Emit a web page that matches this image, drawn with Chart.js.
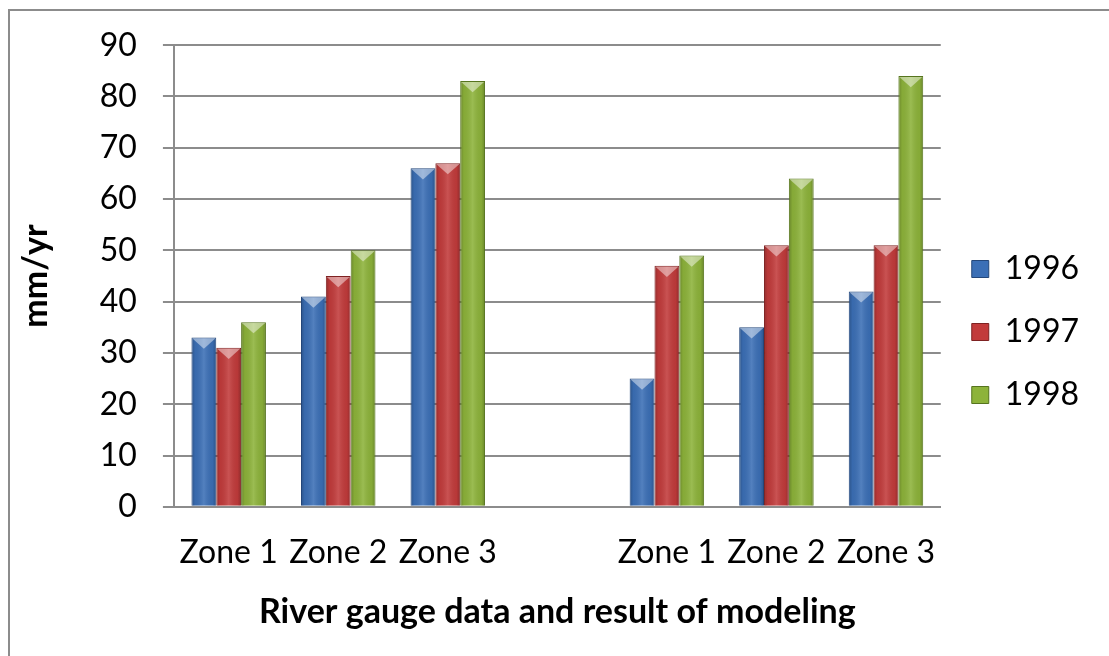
<!DOCTYPE html>
<html>
<head>
<meta charset="utf-8">
<script src="https://cdn.jsdelivr.net/npm/chart.js@4.4.1/dist/chart.umd.min.js"></script>
<style>
  html, body { margin: 0; padding: 0; background: #fff; }
  #wrap { width: 1109px; height: 656px; position: relative; }
</style>
</head>
<body>
<div id="wrap"><canvas id="myBarChart" width="1109" height="656"></canvas></div>
<script>
// data
const categories = ['Zone 1', 'Zone 2', 'Zone 3', '', 'Zone 1', 'Zone 2', 'Zone 3'];
const series1996 = [33, 41, 66, null, 25, 35, 42];
const series1997 = [31, 45, 67, null, 47, 51, 51];
const series1998 = [36, 50, 83, null, 49, 64, 84];
const seriesNames = ['1996', '1997', '1998'];
const yTicks = [0, 10, 20, 30, 40, 50, 60, 70, 80, 90];

const colors = ['#3b6fb6', '#c23b3b', '#8db33a'];
const edges = ['#24477a', '#7e2222', '#56741e'];
const FONT = 'Lato, "Open Sans", sans-serif';

// shading + top bevel on every bar, plus outer frame
const bevelPlugin = {
    id: 'bevel',
    afterDatasetsDraw(chart) {
        const ctx = chart.ctx;
        chart.data.datasets.forEach(function(ds, di) {
            chart.getDatasetMeta(di).data.forEach(function(bar, i) {
                if (ds.data[i] == null) return;
                const l = bar.x - bar.width / 2, r = bar.x + bar.width / 2;
                const top = bar.y, base = bar.base;
                const g = ctx.createLinearGradient(l, 0, r, 0);
                g.addColorStop(0, 'rgba(0,0,0,0.25)');
                g.addColorStop(0.15, 'rgba(0,0,0,0.05)');
                g.addColorStop(0.5, 'rgba(255,255,255,0.12)');
                g.addColorStop(0.85, 'rgba(0,0,0,0.05)');
                g.addColorStop(1, 'rgba(0,0,0,0.25)');
                ctx.save();
                ctx.fillStyle = g;
                ctx.fillRect(l + 1, top + 1, r - l - 2, base - top - 1);
                // top triangle highlight
                const h = bar.width * 0.45;
                ctx.beginPath();
                ctx.moveTo(l + 1, top + 1);
                ctx.lineTo(r - 1, top + 1);
                ctx.lineTo(bar.x, top + h);
                ctx.closePath();
                ctx.fillStyle = 'rgba(255,255,255,0.45)';
                ctx.fill();
                ctx.restore();
            });
        });
    },
    afterDraw(chart) {
        const ctx = chart.ctx;
        ctx.save();
        ctx.strokeStyle = '#8c8c8c';
        ctx.lineWidth = 2;
        ctx.strokeRect(9, 10, chart.width + 20, chart.height + 20);
        ctx.restore();
    }
};

const ctxBar = document.getElementById('myBarChart').getContext('2d');
const myBarChart = new Chart(ctxBar, {
    type: 'bar',
    data: {
        labels: categories,
        datasets: [series1996, series1997, series1998].map(function(d, i) {
            return {
                label: seriesNames[i],
                data: d,
                backgroundColor: colors[i],
                borderColor: edges[i],
                borderWidth: 1,
                categoryPercentage: 0.68,
                barPercentage: 1.0
            };
        })
    },
    plugins: [bevelPlugin],
    options: {
        responsive: false,
        animation: false,
        layout: { padding: { left: 16, right: 20, top: 32, bottom: 24 } },
        plugins: {
            tooltip: { enabled: false },
            legend: {
                position: 'right',
                labels: {
                    color: '#000',
                    font: { family: FONT, size: 32 },
                    boxWidth: 17,
                    boxHeight: 17,
                    padding: 31,
                    generateLabels: function(chart) {
                        return seriesNames.map(function(n, i) {
                            return { text: n, fillStyle: colors[i], strokeStyle: edges[i], lineWidth: 1, datasetIndex: i, fontColor: '#000' };
                        });
                    }
                }
            }
        },
        scales: {
            x: {
                grid: { display: false },
                border: { display: true, color: '#8c8c8c', width: 2 },
                ticks: { color: '#000', font: { family: FONT, size: 32 }, padding: 19, maxRotation: 0, autoSkip: false },
                title: {
                    display: true,
                    text: 'River gauge data and result of modeling',
                    color: '#000',
                    font: { family: FONT, size: 34, weight: 'bold' },
                    padding: { top: 0, bottom: 0 }
                }
            },
            y: {
                min: 0,
                max: 90,
                afterBuildTicks: function(axis) {
                    axis.ticks = yTicks.map(function(v) { return { value: v }; });
                },
                grid: { color: '#8c8c8c', lineWidth: 2, tickLength: 11 },
                border: { display: true, color: '#8c8c8c', width: 2 },
                ticks: { color: '#000', font: { family: FONT, size: 32 }, padding: 26 },
                title: {
                    display: true,
                    text: 'mm/yr',
                    color: '#000',
                    font: { family: FONT, size: 34, weight: 'bold' },
                    padding: { top: 0, bottom: 17 }
                }
            }
        }
    }
});
</script>
</body>
</html>
